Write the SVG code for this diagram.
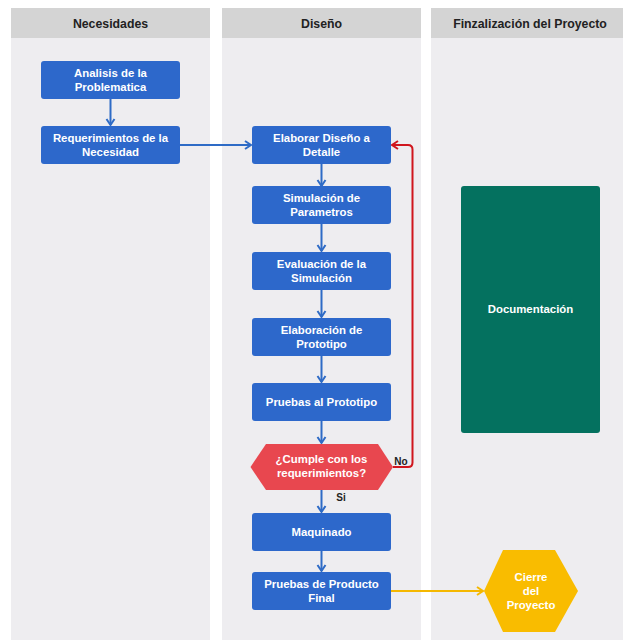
<svg xmlns="http://www.w3.org/2000/svg" width="624" height="640" viewBox="0 0 624 640">
<style>
.lane{fill:#EEEDF0}
.hdr{fill:#D4D4D4}
.ht{font-family:"Liberation Sans",Arial,sans-serif;font-weight:bold;font-size:12.3px;fill:#222;text-anchor:middle}
.box{fill:#2D68CB}
.nt{font-family:"Liberation Sans",Arial,sans-serif;font-weight:bold;font-size:11.4px;fill:#fff;text-anchor:middle}
.lbl{font-family:"Liberation Sans",Arial,sans-serif;font-weight:bold;font-size:10px;fill:#222;text-anchor:middle}
.cb{fill:none;stroke:#2E6BC6;stroke-width:2}
.cr{fill:none;stroke:#D0161E;stroke-width:2}
.cy{fill:none;stroke:#F5B800;stroke-width:2}
</style>
<defs>
<marker id="ab" markerUnits="userSpaceOnUse" markerWidth="10" markerHeight="12" refX="7" refY="5" orient="auto"><path d="M1,1 L7,5 L1,9" fill="none" stroke="#2E6BC6" stroke-width="2"/></marker>
<marker id="ar" markerUnits="userSpaceOnUse" markerWidth="10" markerHeight="12" refX="7" refY="5" orient="auto"><path d="M1,1 L7,5 L1,9" fill="none" stroke="#D0161E" stroke-width="2"/></marker>
<marker id="ay" markerUnits="userSpaceOnUse" markerWidth="10" markerHeight="12" refX="7" refY="5" orient="auto"><path d="M1,1 L7,5 L1,9" fill="none" stroke="#F5B800" stroke-width="2"/></marker>
</defs>
<rect width="624" height="640" fill="#fff"/>
<g id="lanes">
<rect class="lane" x="11" y="8" width="199" height="632"/>
<rect class="hdr" x="11" y="8" width="199" height="30"/>
<text class="ht" x="110.5" y="27.5">Necesidades</text>
<rect class="lane" x="222" y="8" width="199" height="632"/>
<rect class="hdr" x="222" y="8" width="199" height="30"/>
<text class="ht" x="321.5" y="27.5">Diseño</text>
<rect class="lane" x="431" y="8" width="192" height="632"/>
<rect class="hdr" x="431" y="8" width="192" height="30"/>
<text class="ht" x="530" y="27.5">Finzalización del Proyecto</text>
</g>
<g id="connectors">
<path class="cb" d="M110.5,99 V125" marker-end="url(#ab)"/>
<path class="cb" d="M180,145 H251" marker-end="url(#ab)"/>
<path class="cb" d="M321.5,164 V186" marker-end="url(#ab)"/>
<path class="cb" d="M321.5,224 V251" marker-end="url(#ab)"/>
<path class="cb" d="M321.5,290 V317" marker-end="url(#ab)"/>
<path class="cb" d="M321.5,356 V382" marker-end="url(#ab)"/>
<path class="cb" d="M321.5,421 V443" marker-end="url(#ab)"/>
<path class="cb" d="M321.5,490 V512" marker-end="url(#ab)"/>
<path class="cb" d="M321.5,551 V571" marker-end="url(#ab)"/>
<path class="cr" d="M393,467 H408 Q412.5,467 412.5,462.5 V149.5 Q412.5,145 408,145 H392" marker-end="url(#ar)"/>
<path class="cy" d="M391,591 H483" marker-end="url(#ay)"/>
<text class="lbl" x="401" y="465">No</text>
<text class="lbl" x="341" y="500.5">Si</text>
</g>
<g id="n1"><rect class="box" x="41" y="61" width="139" height="38" rx="3"/><text class="nt" x="110.5" y="77">Analisis de la</text><text class="nt" x="110.5" y="91">Problematica</text></g>
<g id="n2"><rect class="box" x="41" y="126" width="139" height="38" rx="3"/><text class="nt" x="110.5" y="142">Requerimientos de la</text><text class="nt" x="110.5" y="156">Necesidad</text></g>
<g id="n3"><rect class="box" x="252" y="126" width="139" height="38" rx="3"/><text class="nt" x="321.5" y="142">Elaborar Diseño a</text><text class="nt" x="321.5" y="156">Detalle</text></g>
<g id="n4"><rect class="box" x="252" y="186" width="139" height="38" rx="3"/><text class="nt" x="321.5" y="202">Simulación de</text><text class="nt" x="321.5" y="216">Parametros</text></g>
<g id="n5"><rect class="box" x="252" y="252" width="139" height="38" rx="3"/><text class="nt" x="321.5" y="268">Evaluación de la</text><text class="nt" x="321.5" y="282">Simulación</text></g>
<g id="n6"><rect class="box" x="252" y="318" width="139" height="38" rx="3"/><text class="nt" x="321.5" y="334">Elaboración de</text><text class="nt" x="321.5" y="348">Prototipo</text></g>
<g id="n7"><rect class="box" x="252" y="383" width="139" height="38" rx="3"/><text class="nt" x="321.5" y="406">Pruebas al Prototipo</text></g>
<g id="n8"><polygon points="250.5,467 266,444 378,444 393,467 378,490 266,490" fill="#E8474F"/><text class="nt" x="321.5" y="463">¿Cumple con los</text><text class="nt" x="321.5" y="477">requerimientos?</text></g>
<g id="n9"><rect class="box" x="252" y="513" width="139" height="38" rx="3"/><text class="nt" x="321.5" y="536">Maquinado</text></g>
<g id="n10"><rect class="box" x="252" y="572" width="139" height="38" rx="3"/><text class="nt" x="321.5" y="588">Pruebas de Producto</text><text class="nt" x="321.5" y="602">Final</text></g>
<g id="n11"><polygon points="484,591 503,550 555,550 578,591 555,632 503,632" fill="#F9BC00"/><text class="nt" x="531" y="581">Cierre</text><text class="nt" x="531" y="595">del</text><text class="nt" x="531" y="609">Proyecto</text></g>
<g id="n12"><rect x="461" y="186" width="139" height="247" rx="3" fill="#04715F"/><text class="nt" x="530.5" y="313">Documentación</text></g>
</svg>
